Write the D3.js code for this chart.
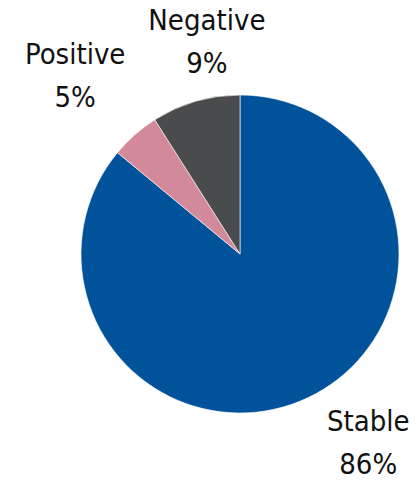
<!DOCTYPE html>
<html>
<head>
  <meta charset="utf-8">
  <script src="https://d3js.org/d3.v7.min.js"></script>
<style>
  body { margin: 0; background: #fff; }
  text { font-family: "DejaVu Sans Condensed", "DejaVu Sans", sans-serif; fill: #111; }
</style>
</head>
<body>
<script>
  // chart data
  var categories = ["Stable", "Positive", "Negative"];
  var shares = [86, 5, 9];
  var colors = ["#00529b", "#d28a9a", "#4a4b4d"];
  // nudges for the labels, from the slice centroid (px)
  var labelShift = [[35, -9], [-20, -14], [28, -2]];

  var width = 415, height = 480,
      cx = 240, cy = 254, radius = 159;

  var svg = d3.select("body").append("svg")
      .attr("width", width)
      .attr("height", height);

  var g = svg.append("g")
      .attr("transform", "translate(" + cx + "," + cy + ")");

  var data = categories.map(function (c, i) { return { name: c, value: shares[i], i: i }; });

  var pie = d3.pie()
      .sort(null)
      .value(function (d) { return d.value; });

  var arc = d3.arc().innerRadius(0).outerRadius(radius);
  var labelArc = d3.arc().innerRadius(radius + 60).outerRadius(radius + 60);

  var arcs = pie(data);

  g.selectAll("path.slice")
    .data(arcs)
    .enter().append("path")
      .attr("class", "slice")
      .attr("d", arc)
      .style("fill", function (d) { return colors[d.data.i]; })
      .style("stroke", "#ffffff")
      .style("stroke-width", 0.6);

  var labels = g.selectAll("g.label")
    .data(arcs)
    .enter().append("g")
      .attr("class", "label")
      .attr("transform", function (d) {
        var c = labelArc.centroid(d), s = labelShift[d.data.i];
        return "translate(" + (c[0] + s[0]) + "," + (c[1] + s[1]) + ")";
      });

  labels.append("text")
      .attr("text-anchor", "middle")
      .attr("y", -12)
      .style("font-size", "29px")
      .text(function (d) { return d.data.name; });

  labels.append("text")
      .attr("text-anchor", "middle")
      .attr("y", 31)
      .style("font-size", "29px")
      .text(function (d) { return d.data.value + "%"; });
</script>
</body>
</html>
